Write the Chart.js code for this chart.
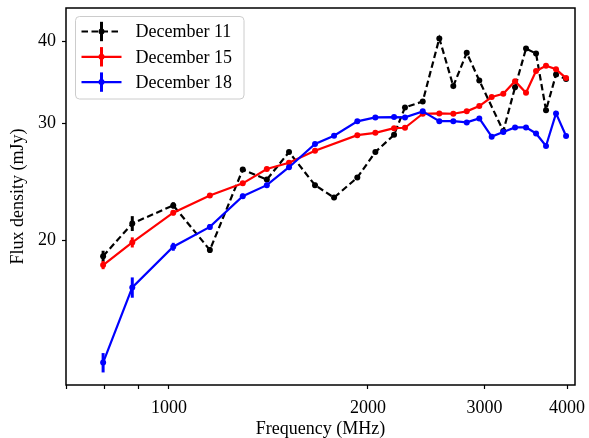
<!DOCTYPE html>
<html>
<head>
<meta charset="utf-8">
<script src="https://cdn.jsdelivr.net/npm/chart.js@4.4.0/dist/chart.umd.min.js"></script>
<style>
  body { margin: 0; background: #fff; }
  canvas { display: block; }
</style>
</head>
<body>
<canvas id="chart" width="589" height="438"></canvas>
<script>
// frequencies in MHz, flux densities in mJy
const freq11 = [795, 880, 1015, 1153, 1293, 1406, 1519, 1663, 1777, 1927, 2052, 2190, 2275, 2420, 2564, 2692, 2821, 2947, 3204, 3338, 3468, 3591, 3718, 3850, 3987];
const flux11 = [18.91, 21.19, 22.57, 19.32, 25.57, 24.69, 27.18, 24.22, 23.19, 24.87, 27.18, 28.86, 31.75, 32.42, 40.39, 34.2, 38.41, 34.88, 29.24, 34.06, 38.98, 38.31, 31.45, 35.61, 35.05];
const err11 = [0.36, 0.55, 0.25, 0.2, 0.2, 0.2, 0.2, 0.2, 0.2, 0.2, 0.2, 0.2, 0.2, 0.2, 0.2, 0.2, 0.2, 0.2, 0.2, 0.2, 0.2, 0.2, 0.2, 0.2, 0.2];

const freq15 = [795, 880, 1015, 1153, 1293, 1406, 1519, 1663, 1927, 2052, 2190, 2275, 2420, 2564, 2692, 2821, 2947, 3077, 3204, 3338, 3468, 3591, 3718, 3850, 3987];
const flux15 = [18.33, 19.84, 22.0, 23.36, 24.37, 25.62, 26.19, 27.30, 28.83, 29.06, 29.54, 29.58, 31.06, 31.10, 31.06, 31.32, 31.90, 32.92, 33.30, 34.80, 33.42, 36.04, 36.71, 36.26, 35.17];
const err15 = [0.26, 0.35, 0.2, 0.2, 0.2, 0.2, 0.2, 0.2, 0.2, 0.2, 0.2, 0.2, 0.2, 0.2, 0.2, 0.2, 0.2, 0.2, 0.2, 0.2, 0.2, 0.2, 0.2, 0.2, 0.2];

const freq18 = [795, 880, 1015, 1153, 1293, 1406, 1519, 1663, 1777, 1927, 2052, 2190, 2275, 2420, 2564, 2692, 2821, 2947, 3077, 3204, 3338, 3468, 3591, 3718, 3850, 3987];
const flux18 = [13.05, 16.96, 19.54, 20.94, 23.31, 24.22, 25.78, 27.96, 28.77, 30.25, 30.67, 30.70, 30.67, 31.32, 30.27, 30.27, 30.14, 30.56, 28.68, 29.14, 29.62, 29.62, 29.0, 27.76, 31.10, 28.75];
const err18 = [0.44, 0.6, 0.27, 0.2, 0.2, 0.2, 0.2, 0.2, 0.2, 0.2, 0.2, 0.2, 0.2, 0.2, 0.2, 0.2, 0.2, 0.2, 0.2, 0.2, 0.2, 0.2, 0.2, 0.2, 0.2, 0.2];

const seriesNames = ['December 11', 'December 15', 'December 18'];
const xTickLabels = [1000, 2000, 3000, 4000];
const xMinorTicks = [700, 800, 900];
const yTickLabels = [20, 30, 40];

const FONT = 'Liberation Serif';

function toPoints(xs, ys) {
  return xs.map((x, i) => ({ x: x, y: ys[i] }));
}

// vertical error bars, drawn right after each dataset
const errorBars = {
  id: 'errorBars',
  afterDatasetDraw(chart, args) {
    const ds = chart.data.datasets[args.index];
    if (!ds.errors) return;
    const xs = chart.scales.x, ys = chart.scales.y;
    const ctx = chart.ctx;
    ctx.save();
    ctx.strokeStyle = ds.borderColor;
    ctx.lineWidth = 3;
    ds.data.forEach((p, i) => {
      const e = ds.errors[i];
      const px = xs.getPixelForValue(p.x);
      ctx.beginPath();
      ctx.moveTo(px, ys.getPixelForValue(p.y - e));
      ctx.lineTo(px, ys.getPixelForValue(p.y + e));
      ctx.stroke();
    });
    ctx.restore();
  }
};

// box round the plot + matplotlib style legend
const frameAndLegend = {
  id: 'frameAndLegend',
  afterDraw(chart) {
    const ctx = chart.ctx;
    const a = chart.chartArea;
    ctx.save();
    ctx.strokeStyle = '#000';
    ctx.lineWidth = 1.5;
    ctx.strokeRect(a.left, a.top, a.right - a.left, a.bottom - a.top);

    // legend
    const bx = a.left + 9.5, by = a.top + 8.5, bw = 168.5, bh = 82.5;
    ctx.beginPath();
    ctx.roundRect(bx, by, bw, bh, 4);
    ctx.fillStyle = 'rgba(255,255,255,0.8)';
    ctx.fill();
    ctx.strokeStyle = '#cccccc';
    ctx.lineWidth = 1;
    ctx.stroke();

    chart.data.datasets.forEach((ds, i) => {
      const y = by + 15 + i * 25.3;
      const x0 = bx + 6, x1 = bx + 46, xm = (x0 + x1) / 2;
      ctx.strokeStyle = ds.borderColor;
      ctx.fillStyle = ds.borderColor;
      ctx.lineWidth = 2.2;
      ctx.setLineDash(ds.borderDash || []);
      ctx.beginPath();
      ctx.moveTo(x0, y);
      ctx.lineTo(x1, y);
      ctx.stroke();
      ctx.setLineDash([]);
      ctx.lineWidth = 3;
      ctx.beginPath();
      ctx.moveTo(xm, y - 9.7);
      ctx.lineTo(xm, y + 9.7);
      ctx.stroke();
      ctx.beginPath();
      ctx.arc(xm, y, 3, 0, Math.PI * 2);
      ctx.fill();
      ctx.fillStyle = '#000';
      ctx.font = '18px "' + FONT + '"';
      ctx.textBaseline = 'middle';
      ctx.textAlign = 'left';
      ctx.fillText(seriesNames[i], bx + 60, y + 1);
    });
    ctx.restore();
  }
};

function series(label, xs, ys, errs, color, dash, order) {
  return {
    label: label,
    data: toPoints(xs, ys),
    errors: errs,
    borderColor: color,
    backgroundColor: color,
    borderWidth: 2.2,
    borderDash: dash,
    pointRadius: 3,
    pointBorderWidth: 0,
    pointBackgroundColor: color,
    tension: 0,
    fill: false,
    order: order
  };
}

function noOverhang(scale) {
  scale.paddingTop = 0;
  scale.paddingBottom = 0;
  scale.paddingLeft = 0;
  scale.paddingRight = 0;
}

new Chart(document.getElementById('chart'), {
  type: 'line',
  data: {
    datasets: [
      series(seriesNames[0], freq11, flux11, err11, '#000000', [6.5, 3.5], 3),
      series(seriesNames[1], freq15, flux15, err15, '#ff0000', [], 2),
      series(seriesNames[2], freq18, flux18, err18, '#0000ff', [], 1)
    ]
  },
  options: {
    responsive: false,
    animation: false,
    layout: { padding: { top: 8, right: 14, left: 0, bottom: 0 } },
    plugins: {
      legend: { display: false },
      tooltip: { enabled: false }
    },
    scales: {
      x: {
        type: 'logarithmic',
        min: 698.6,
        max: 4113,
        afterFit(scale) { scale.height = 53; noOverhang(scale); },
        afterBuildTicks(scale) {
          scale.ticks = xMinorTicks.concat(xTickLabels).map(v => ({ value: v }));
        },
        grid: { drawOnChartArea: false, tickLength: 4, tickWidth: 1.2, tickColor: '#000' },
        border: { display: false },
        ticks: {
          autoSkip: false,
          maxRotation: 0,
          padding: 8,
          color: '#000',
          font: { family: FONT, size: 18 },
          callback: v => xTickLabels.includes(v) ? String(v) : ''
        },
        title: {
          display: true,
          text: 'Frequency (MHz)',
          color: '#000',
          font: { family: FONT, size: 18 },
          padding: { top: 0, bottom: -2 }
        }
      },
      y: {
        type: 'logarithmic',
        min: 12.07,
        max: 44.9,
        afterFit(scale) { scale.width = 66; noOverhang(scale); },
        afterBuildTicks(scale) {
          scale.ticks = yTickLabels.map(v => ({ value: v }));
        },
        grid: { drawOnChartArea: false, tickLength: 4, tickWidth: 1.2, tickColor: '#000' },
        border: { display: false },
        ticks: {
          autoSkip: false,
          padding: 6,
          color: '#000',
          font: { family: FONT, size: 18 },
          callback: v => String(v)
        },
        title: {
          display: true,
          text: 'Flux density (mJy)',
          color: '#000',
          font: { family: FONT, size: 18 },
          padding: { top: 7, bottom: 0 }
        }
      }
    }
  },
  plugins: [errorBars, frameAndLegend]
});
</script>
</body>
</html>
